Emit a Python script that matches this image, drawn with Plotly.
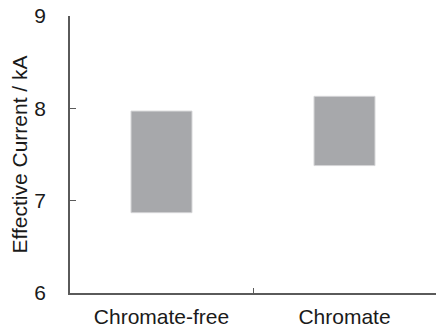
import plotly.graph_objects as go

categories = ["Chromate-free", "Chromate"]
low_values = [6.87, 7.38]
high_values = [7.97, 8.13]
y_ticks = [6, 7, 8, 9]
y_title = "Effective Current / kA"

heights = [h - l for h, l in zip(high_values, low_values)]

fig = go.Figure(go.Bar(
    x=categories,
    y=heights,
    base=low_values,
    width=0.333,
    marker=dict(color="#a7a8ab", line=dict(color="#d4d4d6", width=1)),
))

font_family = "Liberation Sans, Arial, sans-serif"
fs = 21
fig.update_layout(
    width=436, height=331,
    margin=dict(l=70, r=0, t=16, b=38),
    plot_bgcolor="white", paper_bgcolor="white",
    showlegend=False,
    font=dict(family=font_family, size=fs, color="#1a1a1a"),
)
fig.update_xaxes(
    type="category",
    automargin=False,
    showline=True, linecolor="#5a5a5a", linewidth=1.5,
    ticks="inside", tickson="boundaries", ticklen=5, tickcolor="#5a5a5a", tickwidth=1,
    showgrid=False, zeroline=False,
    ticklabelstandoff=4,
    ticklabeloverflow="allow",
    tickfont=dict(size=fs, family=font_family, color="#1a1a1a"),
)
fig.update_yaxes(
    range=[6, 9],
    automargin=False,
    tickvals=y_ticks,
    showline=True, linecolor="#5a5a5a", linewidth=1.5,
    ticks="inside", ticklen=6, tickcolor="#5a5a5a", tickwidth=1,
    showgrid=False, zeroline=False,
    ticklabelstandoff=18,
    ticklabeloverflow="allow",
    tickfont=dict(size=fs, family=font_family, color="#1a1a1a"),
)
fig.add_annotation(
    text=y_title, textangle=-90,
    xref="paper", yref="paper", x=0, y=0.5,
    xanchor="center", yanchor="middle",
    xshift=-51, showarrow=False,
    font=dict(size=fs, family=font_family, color="#1a1a1a"),
)

fig.write_html(
    "out.html",
    config={"displayModeBar": False},
    post_script="document.body.style.margin='0';document.body.style.overflow='hidden';",
)
